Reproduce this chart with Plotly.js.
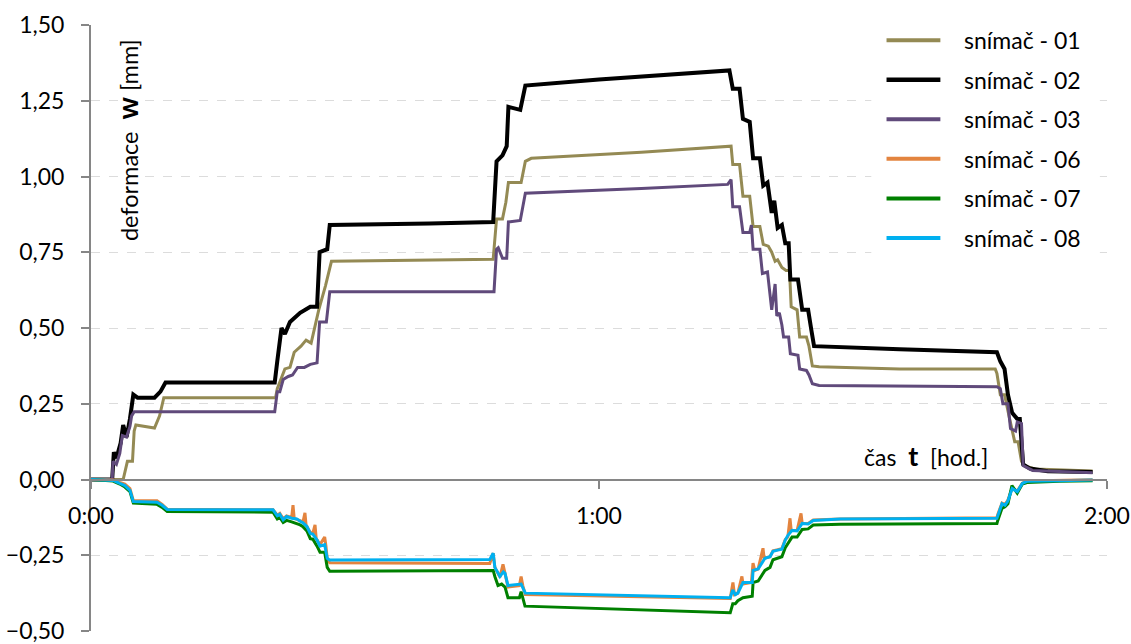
<!DOCTYPE html>
<html>
<head>
<meta charset="utf-8">
<script src="https://cdn.plot.ly/plotly-3.0.1.min.js"></script>
<style>html,body{margin:0;padding:0;background:#fff;}#chart{width:1131px;height:644px;}</style>
</head>
<body>
<div id="chart"></div>
<script>
// time in minutes, deformation in mm
const seriesNames = ['snímač - 01','snímač - 02','snímač - 03','snímač - 06','snímač - 07','snímač - 08'];
const seriesColors = ['#948A54','#000000','#604A7B','#E3843F','#008000','#00B0F0'];

const t01 = [0,2.6,3.8,4.3,4.9,5.1,5.3,7.5,8.1,8.6,21.8,22.0,22.3,22.9,23.5,24.0,24.8,25.4,26.0,26.5,26.9,27.7,28.4,47.5,47.9,48.6,49.0,49.3,50.8,51.3,52.0,65.0,75.6,75.8,76.6,77.0,77.8,78.2,79.0,79.4,80.0,80.4,80.8,81.1,81.6,82.1,82.5,82.7,83.4,83.7,84.5,84.8,85.2,86.0,95.5,106.8,107.0,107.4,107.9,108.5,109.1,109.5,109.9,110.3,111.5,118.3];
const w01 = [0,0,0,0.06,0.06,0.16,0.18,0.17,0.21,0.27,0.27,0.30,0.32,0.365,0.37,0.42,0.44,0.46,0.45,0.51,0.56,0.64,0.72,0.727,0.86,0.86,0.915,0.98,0.98,1.05,1.06,1.08,1.10,1.04,1.04,0.935,0.935,0.835,0.835,0.776,0.77,0.75,0.72,0.725,0.70,0.69,0.69,0.57,0.56,0.47,0.47,0.44,0.375,0.372,0.365,0.365,0.35,0.28,0.28,0.20,0.125,0.125,0.06,0.045,0.035,0.028];

const t02 = [0,2.5,2.7,3.0,3.5,3.8,4.2,4.6,5.0,5.5,7.5,8.2,8.8,21.7,22.0,22.5,22.9,23.5,24.7,25.9,26.7,27.0,27.9,28.2,40.0,47.5,47.9,48.6,49.1,49.3,50.7,51.3,60.0,75.4,75.8,76.6,77.0,77.8,78.2,79.0,79.4,79.9,80.4,80.7,81.1,81.6,82.0,82.4,82.6,83.5,84.0,84.7,85.1,85.4,95.5,107.0,107.4,107.9,108.3,108.8,109.4,109.7,110.1,110.9,113.0,118.3];
const w02 = [0,0,0.09,0.07,0.12,0.18,0.14,0.20,0.28,0.27,0.27,0.29,0.32,0.32,0.39,0.50,0.48,0.52,0.55,0.57,0.57,0.75,0.76,0.84,0.845,0.85,1.05,1.07,1.10,1.23,1.22,1.30,1.32,1.35,1.29,1.29,1.19,1.18,1.06,1.06,0.97,0.98,0.88,0.92,0.83,0.84,0.78,0.78,0.66,0.66,0.56,0.56,0.49,0.44,0.43,0.42,0.39,0.365,0.28,0.22,0.20,0.20,0.05,0.036,0.027,0.025];

const t03 = [0,2.5,2.6,3.0,3.4,3.7,4.2,4.6,4.8,5.1,21.7,22.0,22.3,22.7,23.3,23.8,24.4,25.2,25.9,26.7,27.0,27.8,28.2,47.6,47.9,48.1,48.6,49.1,49.3,50.7,51.3,65.0,75.2,75.6,75.8,76.6,77.0,77.8,78.0,78.2,79.0,79.3,79.9,80.2,80.4,80.8,81.0,81.3,81.6,81.8,82.4,82.6,83.5,83.7,84.5,84.8,85.2,86.0,95.5,107.0,107.4,107.7,108.3,108.6,109.2,109.4,109.9,110.1,111.2,118.3];
const w03 = [0,0,0.06,0.05,0.086,0.145,0.14,0.175,0.21,0.224,0.224,0.29,0.29,0.33,0.34,0.345,0.37,0.37,0.38,0.385,0.52,0.52,0.62,0.62,0.76,0.765,0.73,0.73,0.85,0.855,0.945,0.96,0.974,0.99,0.90,0.90,0.815,0.815,0.84,0.76,0.76,0.68,0.685,0.595,0.56,0.645,0.54,0.55,0.51,0.47,0.47,0.415,0.41,0.365,0.36,0.345,0.316,0.31,0.309,0.306,0.30,0.25,0.25,0.168,0.16,0.19,0.185,0.046,0.03,0.022];

const t06 = [0,2.6,3.4,4.0,4.6,5.0,7.8,8.4,9.0,21.5,22.0,22.3,22.7,23.1,23.7,23.86,24.0,24.7,25.04,25.27,25.4,25.9,26.2,26.46,26.6,27.05,27.6,27.75,27.9,28.2,47.1,47.5,47.7,48.3,48.66,48.9,49.25,50.6,50.8,51.0,51.3,75.5,75.82,76.0,76.4,76.88,77.0,78.0,78.19,78.4,78.8,79.37,79.5,80.2,80.55,81.1,81.6,82.0,82.3,82.56,82.7,83.4,83.86,84.0,84.7,85.3,88.5,107.0,107.1,107.6,107.95,108.3,108.8,109.4,110.0,110.55,114.4,118.3];
const w06 = [0,-0.002,-0.01,-0.015,-0.03,-0.07,-0.07,-0.082,-0.098,-0.10,-0.118,-0.112,-0.13,-0.12,-0.125,-0.085,-0.128,-0.135,-0.14,-0.11,-0.15,-0.175,-0.178,-0.15,-0.195,-0.215,-0.19,-0.22,-0.262,-0.275,-0.277,-0.243,-0.29,-0.322,-0.28,-0.31,-0.355,-0.35,-0.32,-0.35,-0.38,-0.393,-0.34,-0.38,-0.375,-0.32,-0.345,-0.34,-0.276,-0.30,-0.295,-0.227,-0.26,-0.255,-0.235,-0.232,-0.228,-0.198,-0.19,-0.128,-0.168,-0.168,-0.112,-0.145,-0.145,-0.134,-0.13,-0.126,-0.115,-0.078,-0.083,-0.068,-0.028,-0.038,-0.012,-0.005,-0.003,-0.001];

const t07 = [0,2.6,3.4,4.0,4.6,5.0,7.8,8.4,9.0,21.5,22.0,22.3,22.7,23.1,23.7,24.3,24.7,25.0,25.5,25.9,26.2,26.7,27.05,27.6,27.9,28.2,47.1,47.5,47.7,48.07,48.5,48.9,49.25,50.6,50.8,51.0,51.26,75.5,75.8,76.1,76.4,77.0,78.1,78.2,78.8,79.6,80.2,80.55,81.1,81.6,82.0,82.3,82.8,83.4,84.0,84.7,85.3,88.5,107.0,107.1,107.6,107.95,108.3,108.77,109.0,109.4,110.0,110.55,114.4,118.3];
const w07 = [0,-0.005,-0.015,-0.025,-0.04,-0.078,-0.082,-0.092,-0.106,-0.108,-0.13,-0.125,-0.142,-0.135,-0.14,-0.145,-0.15,-0.155,-0.17,-0.195,-0.197,-0.22,-0.24,-0.24,-0.29,-0.303,-0.30,-0.30,-0.32,-0.35,-0.345,-0.355,-0.39,-0.39,-0.37,-0.39,-0.418,-0.44,-0.41,-0.41,-0.40,-0.39,-0.385,-0.34,-0.335,-0.30,-0.29,-0.265,-0.26,-0.255,-0.225,-0.21,-0.19,-0.19,-0.165,-0.163,-0.15,-0.148,-0.145,-0.135,-0.095,-0.09,-0.08,-0.02,-0.03,-0.045,-0.015,-0.01,-0.006,-0.004];

const t08 = [0,2.6,3.4,4.0,4.6,5.0,7.8,8.4,9.0,21.5,22.0,22.3,22.7,23.1,23.7,24.3,24.7,25.0,25.5,25.9,26.2,26.7,27.05,27.6,27.9,28.2,47.1,47.5,47.7,48.3,48.7,48.9,49.25,50.8,51.3,75.5,75.8,76.1,76.4,77.0,78.1,78.2,78.8,79.6,80.2,80.55,81.1,81.6,82.0,82.3,82.8,83.4,84.0,84.7,85.3,88.5,107.0,107.1,107.6,107.95,108.3,108.8,109.4,110.0,110.55,114.4,118.3];
const w08 = [0,-0.003,-0.013,-0.02,-0.036,-0.073,-0.075,-0.085,-0.099,-0.10,-0.12,-0.115,-0.133,-0.122,-0.128,-0.13,-0.138,-0.142,-0.155,-0.178,-0.18,-0.20,-0.22,-0.215,-0.26,-0.266,-0.264,-0.243,-0.29,-0.32,-0.305,-0.31,-0.35,-0.345,-0.375,-0.39,-0.365,-0.38,-0.375,-0.34,-0.34,-0.30,-0.295,-0.26,-0.255,-0.237,-0.233,-0.23,-0.20,-0.185,-0.168,-0.17,-0.145,-0.147,-0.135,-0.13,-0.128,-0.12,-0.08,-0.085,-0.07,-0.03,-0.04,-0.013,-0.006,-0.004,-0.002];

const xTickVals = [0,60,120];
const xTickText = ['0:00','1:00','2:00'];

const times = [t01,t02,t03,t06,t07,t08];
const values = [w01,w02,w03,w06,w07,w08];
const widths = [3,4,3,3,3,3];

const FONT = 'Lato, "Open Sans", sans-serif';

const traces = seriesNames.map((n,i)=>({
  x: times[i], y: values[i], name: n, type:'scatter', mode:'lines',
  line:{color:seriesColors[i], width:widths[i]}, showlegend:false, hoverinfo:'skip'
}));

// custom legend (Excel-like long line samples)
const shapes = [{type:'rect', xref:'paper', yref:'paper', x0:0.768, x1:0.993, y0:0.618, y1:1.01, fillcolor:'#ffffff', line:{width:0}, layer:'above'}];
const annotations = [];
seriesNames.forEach((n,i)=>{
  const yy = 0.975 - i*0.0653;
  shapes.push({type:'line', xref:'paper', yref:'paper', x0:0.783, x1:0.836, y0:yy, y1:yy, line:{color:seriesColors[i], width:i===1?4.5:4}, layer:'above'});
  annotations.push({xref:'paper', yref:'paper', x:0.857, y:yy, xanchor:'left', yanchor:'middle', text:n, showarrow:false, font:{family:FONT, size:23, color:'#000'}});
});
annotations.push({xref:'paper', yref:'paper', x:0.0354, y:0.81, textangle:-90, xanchor:'center', yanchor:'middle', showarrow:false,
  text:'deformace  <b><span style="font-size:28px">w</span></b> [mm]', font:{family:FONT, size:23.5, color:'#000'}});
annotations.push({xref:'paper', yref:'paper', x:0.759, y:0.29, xanchor:'left', yanchor:'middle', showarrow:false,
  text:'čas  <b><span style="font-size:27px">t</span></b>  [hod.]', font:{family:FONT, size:23, color:'#000'}});

const layout = {
  width:1131, height:644,
  margin:{l:91, r:24, t:25, b:13},
  paper_bgcolor:'#fff', plot_bgcolor:'#fff',
  separators:', ',
  font:{family:FONT, size:23, color:'#000'},
  showlegend:false,
  xaxis:{range:[0,120], tickvals:xTickVals, ticktext:xTickText, anchor:'free', position:0.25,
    showline:true, linecolor:'#868686', linewidth:2, ticks:'outside', ticklen:8, tickwidth:2, tickcolor:'#868686',
    showgrid:false, zeroline:false, ticklabelstandoff:8, ticklabeloverflow:'allow', tickfont:{family:FONT, size:23, color:'#000'}},
  yaxis:{range:[-0.5,1.5], dtick:0.25, tick0:0, tickformat:'.2f', showline:true, linecolor:'#868686', linewidth:2,
    ticks:'outside', ticklen:8, tickwidth:2, tickcolor:'#868686', showgrid:true, gridcolor:'#dcdcdc', griddash:'dash', gridwidth:1,
    zeroline:false, ticklabelstandoff:12, ticklabeloverflow:'allow', tickfont:{family:FONT, size:23, color:'#000'}},
  shapes:shapes, annotations:annotations
};

Plotly.newPlot('chart', traces, layout, {displayModeBar:false, staticPlot:true});
</script>
</body>
</html>
